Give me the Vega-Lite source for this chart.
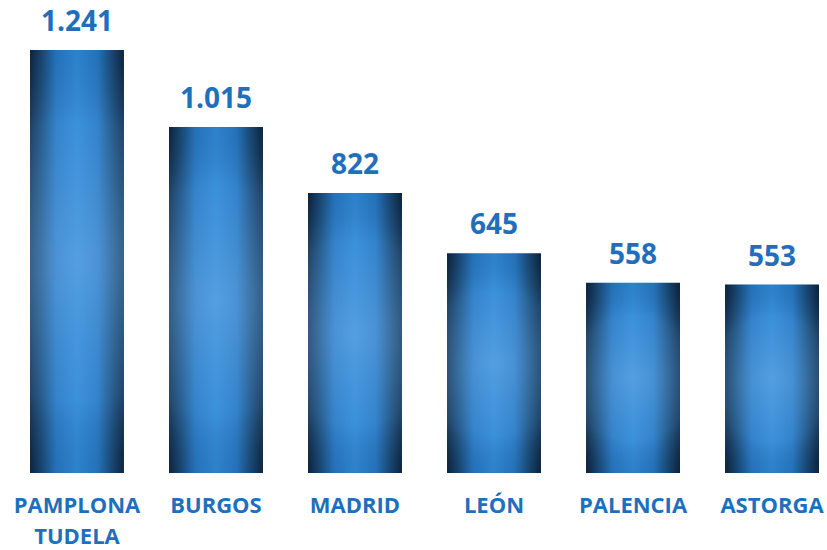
{
  "$schema": "https://vega.github.io/schema/vega-lite/v6.json",
  "autosize": "none",
  "padding": {"left": 30, "top": 30, "right": 8, "bottom": 77},
  "width": 789,
  "height": 443,
  "background": "white",
  "config": {
    "view": {"stroke": null},
    "locale": {"number": {"decimal": ",", "thousands": ".", "grouping": [3], "currency": ["", " €"]}},
    "font": "Open Sans"
  },
  "data": {
    "values": [
      {"ciudad": "PAMPLONA TUDELA", "valor": 1241},
      {"ciudad": "BURGOS", "valor": 1015},
      {"ciudad": "MADRID", "valor": 822},
      {"ciudad": "LEÓN", "valor": 645},
      {"ciudad": "PALENCIA", "valor": 558},
      {"ciudad": "ASTORGA", "valor": 553}
    ]
  },
  "encoding": {
    "x": {
      "field": "ciudad", "type": "nominal", "sort": null,
      "scale": {"paddingInner": 0.324, "paddingOuter": 0},
      "axis": {
        "title": null, "domain": false, "ticks": false, "labelAngle": 0,
        "labelExpr": "split(datum.label, ' ')",
        "labelFont": "Open Sans", "labelFontSize": 22, "labelFontWeight": "bold",
        "labelColor": "#1F6FBC", "labelPadding": 22, "labelLineHeight": 31,
        "labelBaseline": "top"
      }
    },
    "y": {
      "field": "valor", "type": "quantitative",
      "scale": {"domain": [0, 1300], "nice": false},
      "axis": null
    }
  },
  "layer": [
    {
      "mark": {
        "type": "bar",
        "fill": {
          "gradient": "linear", "x1": 0, "y1": 0, "x2": 1, "y2": 0,
          "stops": [
            {"offset": 0, "color": "#0c223b"},
            {"offset": 0.12, "color": "#16456f"},
            {"offset": 0.28, "color": "#2577c2"},
            {"offset": 0.5, "color": "#2f8ad8"},
            {"offset": 0.72, "color": "#2577c2"},
            {"offset": 0.88, "color": "#16456f"},
            {"offset": 1, "color": "#0c223b"}
          ]
        }
      }
    },
    {
      "mark": {
        "type": "bar",
        "fill": {
          "gradient": "radial", "x1": 0.5, "y1": 0.5, "r1": 0, "x2": 0.5, "y2": 0.5, "r2": 0.55,
          "stops": [
            {"offset": 0, "color": "rgba(115,175,232,0.55)"},
            {"offset": 0.6, "color": "rgba(95,165,228,0.25)"},
            {"offset": 1, "color": "rgba(10,30,60,0.06)"}
          ]
        }
      }
    },
    {
      "mark": {
        "type": "text", "baseline": "alphabetic", "dy": -19,
        "font": "Open Sans", "fontSize": 28, "fontWeight": "bold", "color": "#1F6FBC"
      },
      "encoding": {
        "text": {"field": "valor", "type": "quantitative", "format": ","}
      }
    }
  ]
}
